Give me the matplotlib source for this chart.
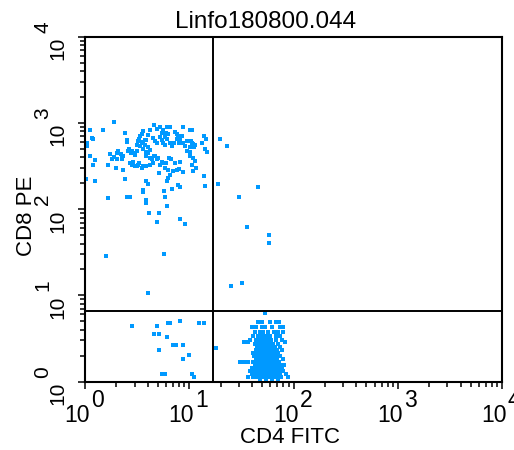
import numpy as np
import matplotlib
matplotlib.use("Agg")
import matplotlib.pyplot as plt
from matplotlib.ticker import LogLocator, NullFormatter
from matplotlib.transforms import offset_copy

# FACS listmode values, 1024 channels over 4 log decades (ch 256 = one decade)
title = "Linfo180800.044"
x_label = "CD4 FITC"
y_label = "CD8 PE"
decades = [0, 1, 2, 3, 4]

# quadrant markers (channels)
quad_x = 314
quad_y = 210

# CD8+ population (CD4 ch, CD8 ch)
cd8_cells = [
    (70, 771), (12, 747), (43, 747), (169, 762), (184, 757), (202, 757), (209, 757),
    (241, 757), (258, 747), (263, 747), (192, 747), (199, 739), (205, 737), (143, 744),
    (139, 737), (135, 729), (160, 749), (155, 734), (151, 719), (98, 739), (225, 737),
    (229, 729), (233, 719), (16, 724), (20, 721), (102, 719), (104, 711), (131, 714),
    (127, 704), (135, 699), (143, 709), (147, 717), (168, 724), (172, 714), (178, 709),
    (188, 719), (191, 709), (196, 704), (209, 709), (213, 701), (219, 709), (241, 709),
    (246, 699), (250, 714), (262, 709), (266, 699), (270, 704), (292, 731), (297, 721),
    (287, 709), (295, 690), (300, 681), (4, 699), (6, 709), (12, 670), (25, 658),
    (19, 645), (61, 675), (66, 660), (57, 645), (78, 680), (82, 684), (88, 675),
    (90, 660), (94, 670), (76, 635), (94, 630), (98, 602), (109, 692), (115, 684),
    (119, 680), (127, 684), (111, 650), (119, 652), (127, 640), (131, 645), (139, 635),
    (143, 642), (151, 670), (160, 665), (164, 660), (155, 680), (172, 670), (176, 660),
    (168, 650), (184, 645), (192, 650), (196, 635), (205, 630), (182, 620), (207, 665),
    (210, 660), (221, 648), (233, 652), (217, 625), (225, 630), (232, 632), (241, 622),
    (209, 615), (205, 605), (201, 595), (258, 670), (266, 665), (270, 655), (262, 645),
    (273, 635), (266, 625), (250, 684), (258, 681), (292, 612), (295, 580), (150, 595),
    (155, 588), (143, 570), (142, 562), (194, 565), (213, 572), (233, 578), (229, 583),
    (57, 545), (102, 547), (111, 547), (150, 540), (150, 532), (196, 547), (201, 522),
    (2, 602), (25, 595), (157, 500), (176, 475), (182, 500), (233, 484), (246, 469),
    (133, 720), (140, 713), (147, 703), (155, 696), (160, 688), (151, 683), (142, 690),
    (178, 750), (188, 740), (196, 728), (202, 720), (184, 728), (220, 743), (227, 720),
    (232, 708), (237, 730), (260, 714), (264, 706), (268, 696), (258, 696), (106, 684),
    (112, 680), (123, 674), (115, 645), (123, 640), (133, 650), (151, 640), (160, 645),
    (169, 670), (180, 663), (188, 653), (199, 648), (70, 666), (79, 660), (90, 665),
    (52, 373), (195, 379), (155, 262),
]

# cells outside the two main populations
other_cells = [
    (332, 721), (348, 699), (327, 588), (379, 547), (426, 578), (399, 459),
    (451, 436), (451, 411), (359, 284), (386, 292), (322, 101),
    (116, 164), (176, 164), (203, 174), (209, 174), (233, 180), (281, 174),
    (293, 174), (169, 142), (182, 142), (202, 132), (215, 109), (223, 109),
    (240, 109), (182, 93), (241, 68), (255, 78), (188, 21), (196, 21),
    (262, 21), (268, 13),
]

# CD4+ population, by CD8 channel row: list of CD4 channels
cd4_rows = [
    (203, [442]),
    (178, [425, 435, 454, 469, 477]),
    (162, [410, 420, 435, 442, 459, 479, 486]),
    (148, [418, 430, 437, 449, 464, 474, 486]),
    (136, [413, 425, 435, 444, 454, 469, 479]),
    (124, [405, 420, 428, 435, 442, 449, 457, 469, 484]),
    (118, [391, 400, 491]),
    (112, [418, 425, 432, 440, 447, 454, 462, 474]),
    (102, [423, 430, 437, 445, 452, 459, 467, 479]),
    (94, [420, 428, 435, 442, 450, 457, 464, 472, 484]),
    (85, [413, 423, 430, 437, 445, 452, 459, 467, 474]),
    (76, [415, 425, 432, 440, 447, 454, 462, 469, 479]),
    (67, [420, 428, 435, 442, 450, 457, 464, 472, 486]),
    (58, [381, 391, 400, 413, 423, 430, 437, 445, 452, 459, 467, 477]),
    (49, [418, 425, 432, 440, 447, 454, 462, 469, 479, 489]),
    (40, [410, 420, 428, 435, 442, 450, 457, 464, 474, 484]),
    (31, [405, 415, 423, 430, 437, 445, 452, 459, 467, 477, 486]),
    (22, [410, 418, 425, 432, 440, 447, 454, 462, 469, 479, 494]),
    (13, [400, 413, 420, 428, 435, 442, 450, 457, 464, 472, 481, 499]),
    (7, [430, 445, 459, 474]),
    # extra hits in the core
    (130, [439, 446, 452]),
    (107, [434, 441, 448, 456]),
    (89, [426, 433, 440, 447, 455]),
    (71, [424, 431, 438, 446, 453, 460]),
    (54, [422, 429, 436, 444, 451, 458, 465]),
    (36, [418, 426, 433, 440, 448, 455, 462, 470]),
    (18, [415, 423, 431, 438, 446, 453, 460, 467]),
]


def to_lin(ch):
    return 10 ** (np.asarray(ch, dtype=float) / 256.0)


cd4_pop = [(x, y) for y, xs in cd4_rows for x in xs]
all_cells = cd8_cells + other_cells + cd4_pop
cd4_ch = np.array([c[0] for c in all_cells])
cd8_ch = np.array([c[1] for c in all_cells])

font = ["Liberation Sans", "DejaVu Sans"]

fig = plt.figure(figsize=(5.14, 4.5), dpi=100)
ax = fig.add_axes([85 / 514, 68.5 / 450, 417 / 514, 344.5 / 450])

ax.scatter(to_lin(cd4_ch), to_lin(cd8_ch), s=6.5, marker="s", c="#0099ff",
           linewidths=0, zorder=2)

ax.axvline(to_lin(quad_x), color="black", lw=1.4, zorder=3)
ax.axhline(to_lin(quad_y), color="black", lw=1.4, zorder=3)

ax.set_xscale("log")
ax.set_yscale("log")
ax.set_xlim(1, 1e4)
ax.set_ylim(1, 1e4)
for axis in (ax.xaxis, ax.yaxis):
    axis.set_major_locator(LogLocator(base=10, numticks=10))
    axis.set_minor_locator(LogLocator(base=10, subs=np.arange(2, 10), numticks=20))
    axis.set_minor_formatter(NullFormatter())

for sp in ax.spines.values():
    sp.set_linewidth(1.5)
ax.tick_params(which="both", direction="out", top=False, right=False,
               labelbottom=False, labelleft=False, width=1.1, color="black")
ax.tick_params(which="major", length=5)
ax.tick_params(which="minor", length=3.5)

# decade labels: "10" with a full-size raised exponent
tx = ax.get_xaxis_transform()
tx_base = offset_copy(tx, fig=fig, x=5, y=0, units="dots")
tx_exp = offset_copy(tx, fig=fig, x=6, y=0, units="dots")
for k in decades:
    ax.text(10 ** k, -0.1176, "10", transform=tx_base, ha="right", va="baseline",
            fontsize=16.5, family=font, clip_on=False)
    ax.text(10 ** k, -0.074, str(k), transform=tx_exp, ha="left", va="baseline",
            fontsize=16.5, family=font, clip_on=False)

ty = ax.get_yaxis_transform()
ty_exp = offset_copy(ty, fig=fig, x=0, y=4, units="dots")
for k in decades:
    ax.text(-0.0528, 10 ** k, "10", transform=ty, rotation=90, rotation_mode="anchor",
            ha="right", va="baseline", fontsize=15, family=font, clip_on=False)
    ax.text(-0.0887, 10 ** k, str(k), transform=ty_exp, rotation=90,
            rotation_mode="anchor", ha="left", va="baseline", fontsize=15,
            family=font, clip_on=False)

fig.text(266 / 514, 1 - 28 / 450, title, ha="center", va="baseline",
         fontsize=17.5, family=font)
fig.text(290 / 514, 7 / 450, x_label, ha="center", va="baseline",
         fontsize=16, family=font)
fig.text(32 / 514, 1 - 216 / 450, y_label, rotation=90, rotation_mode="anchor",
         ha="center", va="baseline", fontsize=16, family=font)

fig.savefig("out.png", dpi=100)
